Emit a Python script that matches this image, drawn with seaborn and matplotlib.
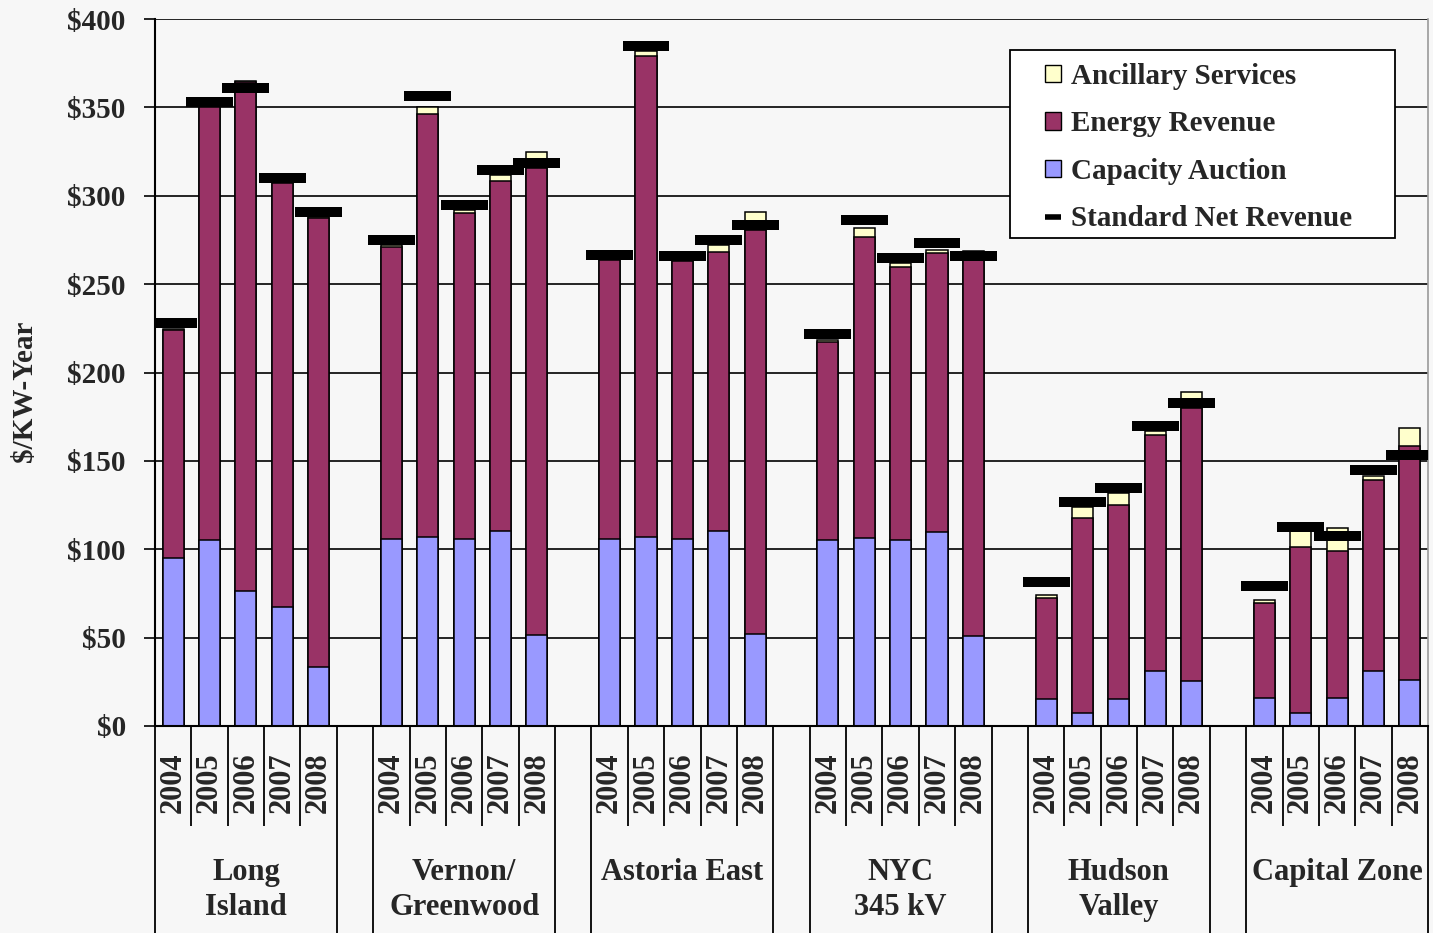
import numpy as np
import pandas as pd
import matplotlib
matplotlib.use("Agg")
import matplotlib.pyplot as plt
import seaborn as sns
from matplotlib.patches import Patch, Rectangle
from matplotlib.lines import Line2D
from matplotlib.transforms import blended_transform_factory

# ---------------- data ----------------
groups = ["Long\nIsland", "Vernon/\nGreenwood", "Astoria East", "NYC\n345 kV", "Hudson\nValley", "Capital Zone"]
years = ["2004", "2005", "2006", "2007", "2008"]

capacity = [95, 105, 76.5, 67.5, 33.5,
            106, 107, 106, 110.5, 51.6,
            106, 107, 106, 110.6, 51.8,
            105.5, 106.5, 105.5, 110, 51.2,
            15.3, 7.2, 15.3, 31, 25.7,
            15.6, 7.5, 15.6, 31.2, 25.9]
energy = [129, 245, 288, 239.5, 254,
          165, 239.5, 184, 197.9, 264.2,
          157.9, 272.3, 157, 157.8, 229,
          111.9, 170.2, 154, 157.6, 215.8,
          57.2, 110.3, 109.6, 133.7, 154.3,
          54.1, 93.6, 83.4, 108.1, 132.6]
ancillary = [0.4, 0.5, 0.5, 0.5, 0.5,
             1, 3.9, 1.8, 3.2, 9,
             0.6, 2.7, 0.5, 3.6, 10.2,
             1.1, 4.8, 2.5, 1.9, 1.5,
             1.7, 6.3, 7, 2.1, 8.9,
             1.7, 9.1, 12.8, 2.1, 10.3]
standard = [228, 353, 361, 310, 290.6,
            274.7, 356.4, 294.7, 314.3, 318.5,
            266.7, 384.6, 265.9, 275, 283.6,
            222, 286, 264.7, 273, 266,
            81.7, 126.6, 134.7, 169.8, 182.8,
            79, 112.6, 107.5, 145, 153.4]
yticks = [0, 50, 100, 150, 200, 250, 300, 350, 400]

legend_labels = ["Ancillary Services", "Energy Revenue", "Capacity Auction", "Standard Net Revenue"]
c_anc, c_energy, c_cap = "#FFFFCC", "#993366", "#9999FF"

# ---------------- frame ----------------
nY = len(years)
rows = []
for g, grp in enumerate(groups):
    for j, yr in enumerate(years):
        rows.append((g * (nY + 1) + j, grp, yr))
df = pd.DataFrame(rows, columns=["pos", "group", "year"])
df["capacity"] = capacity
df["energy"] = energy
df["ancillary"] = ancillary
df["standard"] = standard
df["top_energy"] = df["capacity"] + df["energy"]
df["top_anc"] = df["top_energy"] + df["ancillary"]

sns.set_theme(style="white")
plt.rcParams["font.family"] = ["Liberation Serif", "DejaVu Serif"]
plt.rcParams["font.weight"] = "bold"

BG = "#F7F7F7"
W, H = 1433, 933
fig = plt.figure(figsize=(W / 100, H / 100), dpi=100, facecolor=BG)
L, R, T, B = 155, 1428, 19, 726
ax = fig.add_axes([L / W, 1 - B / H, (R - L) / W, (B - T) / H])
ax.set_facecolor(BG)

bw = 0.58
common = dict(x="pos", native_scale=True, width=bw, saturation=1, errorbar=None,
              edgecolor="black", linewidth=1.1, ax=ax)
sns.barplot(data=df, y="top_anc", color=c_anc, **common)
sns.barplot(data=df, y="top_energy", color=c_energy, **common)
sns.barplot(data=df, y="capacity", color=c_cap, **common)

# standard net revenue markers
ax.hlines(df["standard"], df["pos"] - 0.645, df["pos"] + 0.645, colors="black",
          linewidth=7.2, zorder=5, capstyle="butt")

# axes
ax.set_xlim(-0.5, len(groups) * (nY + 1) - 1.5)
ax.set_ylim(0, 400)
ax.set_yticks(yticks)
ax.set_yticklabels([f"${v}" for v in yticks])
ax.set_xticks([])
ax.set_xlabel("")
ax.set_ylabel("$/KW-Year", fontsize=21, fontweight="bold")
ax.yaxis.set_label_coords((25 - L) / (R - L), (B - 391) / (B - T))
ax.yaxis.label.set_va("center")
ax.yaxis.grid(True, color="black", linewidth=1.2)
ax.set_axisbelow(True)
ax.tick_params(axis="y", left=True, length=8, width=1.2, pad=13, labelsize=21,
               color="black", direction="out")
for lab in ax.get_yticklabels():
    lab.set_fontweight("bold")
for s in ["left", "bottom"]:
    ax.spines[s].set_color("black")
    ax.spines[s].set_linewidth(1.5)
ax.spines["top"].set_visible(False)
ax.spines["right"].set_color("#9a9a9a")
ax.spines["right"].set_linewidth(1.2)

# category axis below
trans = blended_transform_factory(ax.transData, ax.transAxes)
y_year_line = -(826 - 726) / (B - T)
y_bottom = -(H - B + 5) / (B - T)
for g, grp in enumerate(groups):
    start = g * (nY + 1)
    for k in range(nY + 1):
        xb = start - 0.5 + k
        ylow = y_bottom if k in (0, nY) else y_year_line
        ax.vlines(xb, ylow, 0, transform=trans, colors="black", linewidth=1.3, clip_on=False)
    for j, yr in enumerate(years):
        ax.text(start + j, -(783 - 726) / (B - T), yr, rotation=90, ha="center", va="center",
                transform=trans, fontsize=22, fontweight="bold")
    ax.text(start + (nY - 1) / 2, -(858 - 726) / (B - T), grp, ha="center", va="top",
            transform=trans, fontsize=22, fontweight="bold", linespacing=1.28)

# legend
box = Rectangle(((1010 - L) / (R - L), (B - 238) / (B - T)), (1395 - 1010) / (R - L),
                (238 - 50) / (B - T), transform=ax.transAxes, facecolor="white",
                edgecolor="black", linewidth=1.3, zorder=6)
ax.add_patch(box)
handles = [Patch(facecolor=c_anc, edgecolor="black", linewidth=1),
           Patch(facecolor=c_energy, edgecolor="black", linewidth=1),
           Patch(facecolor=c_cap, edgecolor="black", linewidth=1),
           Line2D([], [], color="black", linewidth=4, solid_capstyle="butt")]
leg = ax.legend(handles, legend_labels, loc="upper left",
                bbox_to_anchor=((1045 - L) / (R - L), (B - 63) / (B - T)),
                frameon=False, borderpad=0, borderaxespad=0,
                prop={"size": 21, "weight": "bold"}, handlelength=0.55,
                handleheight=0.55, handletextpad=0.35, labelspacing=0.7)
leg.set_zorder(7)

fig.savefig("out.png", dpi=100, facecolor=BG)
